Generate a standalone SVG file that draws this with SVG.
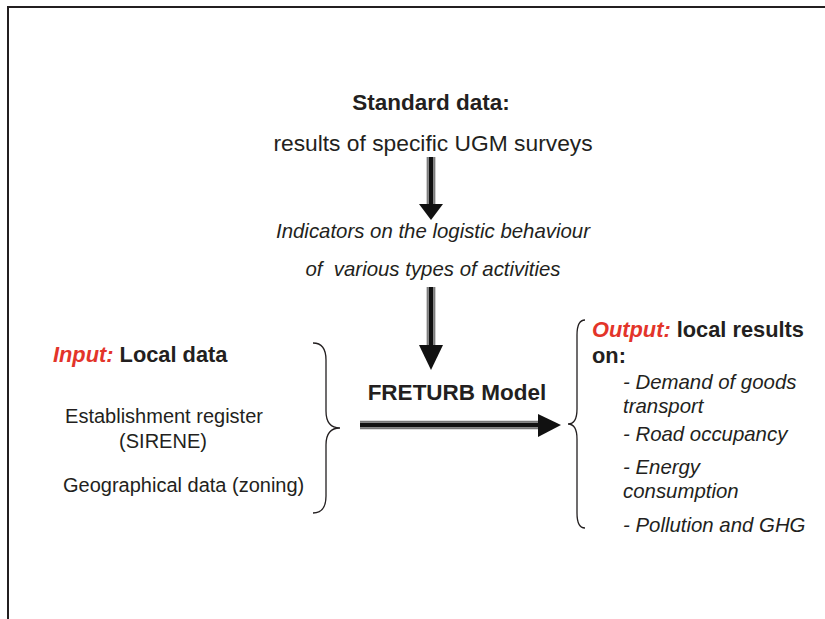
<svg xmlns="http://www.w3.org/2000/svg" width="825" height="619" viewBox="0 0 825 619">
<style>
text{font-family:"Liberation Sans",Arial,sans-serif;fill:#231f20}
.h{font-weight:bold;font-size:22.5px}
.hs{font-weight:bold;font-size:21.8px}
.r{font-size:22.8px}
.b{font-size:20px}
.i{font-size:20.4px;font-style:italic}
.red{fill:#e3342a;font-style:italic;font-weight:bold}
.brace{fill:none;stroke:#231f20;stroke-width:1.3}
.edge{stroke:#777;stroke-width:1.3}
.core{stroke:#111;stroke-width:5}
.head{fill:#111}
</style>
<rect width="825" height="619" fill="#fff"/>
<path d="M8,619 V7 H825" fill="none" stroke="#231f20" stroke-width="2"/>

<g id="standard">
<text class="h" x="431" y="110" text-anchor="middle">Standard data:</text>
<text class="r" x="433" y="151" text-anchor="middle">results of specific UGM surveys</text>
</g>

<g id="indicators">
<text class="i" x="433" y="238" text-anchor="middle">Indicators on the logistic behaviour</text>
<text class="i" x="433" y="276" text-anchor="middle" xml:space="preserve">of  various types of activities</text>
</g>

<g id="model">
<text class="h" x="457" y="400" text-anchor="middle">FRETURB Model</text>
</g>

<g id="input">
<text class="hs" x="53" y="362"><tspan class="red">Input:</tspan> Local data</text>
<text class="b" x="164" y="423" text-anchor="middle">Establishment register</text>
<text class="b" x="163" y="448" text-anchor="middle">(SIRENE)</text>
<text class="b" x="63" y="492">Geographical data (zoning)</text>
<path class="brace" d="M313,343 Q326,343 326,360 V411 Q326,428 340,428 Q326,428 326,445 V496 Q326,513 313,513"/>
</g>

<g id="output">
<text class="hs" x="592" y="337"><tspan class="red">Output:</tspan> local results</text>
<text class="hs" x="592" y="363">on:</text>
<text class="i" x="623" y="389">- Demand of goods</text>
<text class="i" x="623" y="413">transport</text>
<text class="i" x="623" y="441">- Road occupancy</text>
<text class="i" x="623" y="474">- Energy</text>
<text class="i" x="623" y="498">consumption</text>
<text class="i" x="623" y="532">- Pollution and GHG</text>
<path class="brace" d="M585,320 Q577,320 577,335 V409 Q577,424 568,424 Q577,424 577,439 V513 Q577,528 585,528"/>
</g>

<g id="connectors">
<g id="arrow1">
<line class="edge" x1="427.3" y1="157" x2="427.3" y2="206"/>
<line class="edge" x1="434.7" y1="157" x2="434.7" y2="206"/>
<line class="core" x1="431" y1="157" x2="431" y2="206"/>
<polygon class="head" points="419,204 443,204 431,220"/>
</g>
<g id="arrow2">
<line class="edge" x1="427.3" y1="287" x2="427.3" y2="346"/>
<line class="edge" x1="434.7" y1="287" x2="434.7" y2="346"/>
<line class="core" x1="431" y1="287" x2="431" y2="346"/>
<polygon class="head" points="419,345 443,345 431,370"/>
</g>
<g id="arrow3">
<line class="edge" x1="360" y1="421.3" x2="540" y2="421.3"/>
<line class="edge" x1="360" y1="428.7" x2="540" y2="428.7"/>
<line class="core" x1="360" y1="425" x2="540" y2="425"/>
<polygon class="head" points="538,414 561,425 538,437"/>
</g>
</g>
</svg>
